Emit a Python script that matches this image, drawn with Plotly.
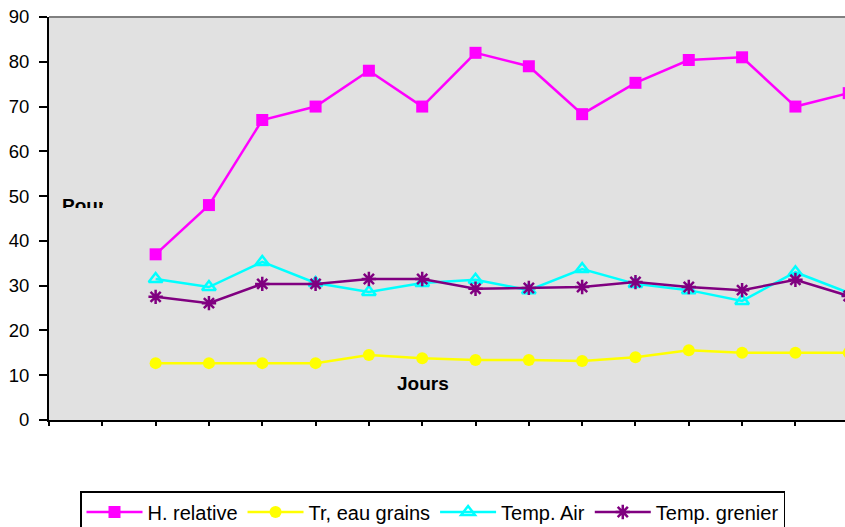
import plotly.graph_objects as go

# Day positions on the category axis (first two slots are empty)
jours = list(range(2, 16))

h_relative = [37, 48, 67, 70, 78, 70, 82, 79, 68.3, 75.3, 80.4, 81, 70, 73]
tr_eau_grains = [12.7, 12.7, 12.7, 12.7, 14.5, 13.8, 13.4, 13.4, 13.2, 14.0, 15.6, 15.0, 15.0, 15.0]
temp_air = [31.5, 29.7, 35.3, 30.6, 28.6, 30.6, 31.3, 29.0, 33.7, 30.4, 29.0, 26.6, 33.0, 28.4]
temp_grenier = [27.5, 26.1, 30.4, 30.4, 31.5, 31.5, 29.3, 29.5, 29.7, 30.8, 29.7, 29.0, 31.3, 27.7]

y_ticks = list(range(0, 91, 10))
x_ticks = list(range(0, 16))

FONT = "Liberation Sans, Arial, sans-serif"
X_RANGE = [0, 14.93]
Y_RANGE = [0, 90]

fig = go.Figure()

fig.add_trace(go.Scatter(
    x=jours, y=h_relative, name="H. relative", mode="lines+markers",
    line=dict(color="#FF00FF", width=2.5),
    marker=dict(symbol="square", size=12, color="#FF00FF"),
))
fig.add_trace(go.Scatter(
    x=jours, y=tr_eau_grains, name="Tr, eau grains", mode="lines+markers",
    line=dict(color="#FFFF00", width=2.5),
    marker=dict(symbol="circle", size=12, color="#FFFF00"),
))
fig.add_trace(go.Scatter(
    x=jours, y=temp_air, name="Temp. Air", mode="lines+markers",
    line=dict(color="#00FFFF", width=2.5),
    marker=dict(symbol="triangle-up-open", size=12, color="#00FFFF",
                line=dict(color="#00FFFF", width=2.5)),
))
fig.add_trace(go.Scatter(
    x=jours, y=temp_grenier, name="Temp. grenier", mode="lines+markers",
    line=dict(color="#800080", width=2.5),
    marker=dict(symbol="asterisk-open", size=12, color="#800080",
                line=dict(color="#800080", width=2.5)),
))

# Partially hidden y-axis caption, clipped by its own small subplot
fig.add_trace(go.Scatter(
    x=[0], y=[0.05], text=["<b>Pourcentage</b>"], mode="text",
    textposition="middle right", textfont=dict(family=FONT, size=19, color="black"),
    xaxis="x3", yaxis="y3", showlegend=False, hoverinfo="skip", cliponaxis=True,
))

fig.update_layout(
    width=845, height=527,
    margin=dict(l=49, r=0, t=17, b=107, autoexpand=False),
    paper_bgcolor="white",
    plot_bgcolor="#E1E1E1",
    font=dict(family=FONT, size=18, color="black"),
    showlegend=True,
    legend=dict(
        orientation="h", x=(80 - 49) / 796, y=(420 - 491) / 403,
        xanchor="left", yanchor="top",
        bgcolor="white", bordercolor="black", borderwidth=1.5,
        font=dict(family=FONT, size=20, color="black"),
        itemwidth=56,
    ),
    xaxis=dict(
        range=X_RANGE, tickmode="array", tickvals=x_ticks, showticklabels=False,
        ticks="outside", ticklen=4, tickwidth=2, tickcolor="black",
        showline=True, linecolor="black", linewidth=2,
        showgrid=False, zeroline=False, fixedrange=True,
    ),
    yaxis=dict(
        range=Y_RANGE, tickmode="array", tickvals=y_ticks,
        ticks="outside", ticklen=8, tickwidth=2, tickcolor="black",
        showline=True, linecolor="black", linewidth=2,
        showgrid=False, zeroline=False, ticklabelstandoff=6,
        tickfont=dict(family=FONT, size=18.5, color="black"),
    ),
    # inner halves of the crossing tick marks
    xaxis2=dict(
        overlaying="x", anchor="y", range=X_RANGE, tickmode="array", tickvals=x_ticks,
        ticks="inside", ticklen=5, tickwidth=2, tickcolor="black",
        showticklabels=False, showline=False, showgrid=False, zeroline=False,
    ),
    yaxis2=dict(
        overlaying="y", anchor="x", range=Y_RANGE, tickmode="array", tickvals=y_ticks,
        ticks="inside", ticklen=4, tickwidth=2, tickcolor="black",
        showticklabels=False, showline=False, showgrid=False, zeroline=False,
    ),
    xaxis3=dict(domain=[(62 - 49) / 796, (103 - 49) / 796], anchor="y3",
                range=[0, 1], visible=False),
    yaxis3=dict(domain=[(420 - 208) / 403, (420 - 190) / 403], anchor="x3",
                range=[0, 1], visible=False),
    shapes=[
        # grey top edge of the plot area
        dict(type="line", xref="paper", yref="paper", x0=0, x1=1, y0=1, y1=1,
             line=dict(color="#808080", width=2)),
    ],
    annotations=[
        dict(text="<b>Jours</b>", xref="paper", yref="paper",
             x=(423 - 49) / 796, y=(420 - 383) / 403,
             xanchor="center", yanchor="middle", showarrow=False,
             font=dict(family=FONT, size=19, color="black")),
    ],
)

fig.write_html("out.html")
